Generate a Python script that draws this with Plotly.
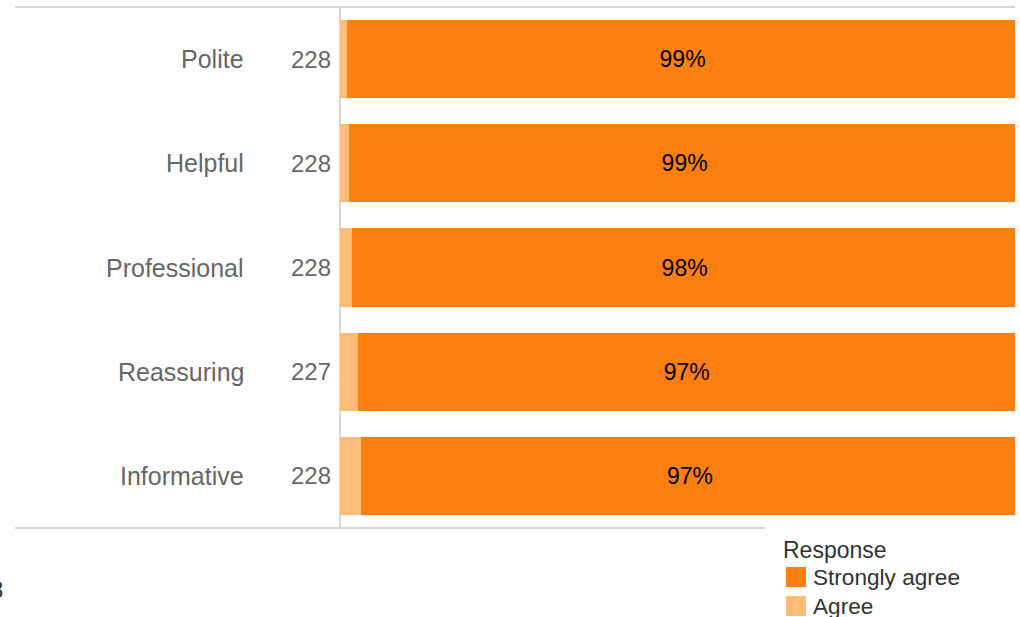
import plotly.graph_objects as go

# Survey items, respondent counts and response shares (%)
items = ["Polite", "Helpful", "Professional", "Reassuring", "Informative"]
counts = [228, 228, 228, 227, 228]
agree = [1.0, 1.3, 1.8, 2.6, 3.1]
strongly_agree = [99, 99, 98, 97, 97]

legend_title = "Response"
legend_labels = ["Strongly agree", "Agree"]

COL_STRONG = "#fd7f0f"
COL_AGREE = "#ffbb78"
LABEL_GREY = "#666666"
DARK = "#333333"
RULE = "#d6d6d6"
FONT = "Liberation Sans, Arial, sans-serif"

W, H = 1020, 617
ML, MR, MT, MB = 340, 5, 7, 89
PW = W - ML - MR
PH = H - MT - MB


def px_x(px):
    return (px - ML) / PW


def px_y(py):
    return (H - MB - py) / PH


fig = go.Figure()
fig.add_trace(go.Bar(
    y=items, x=agree, orientation="h", name=legend_labels[1],
    marker=dict(color=COL_AGREE, line=dict(width=0)),
    hoverinfo="skip", showlegend=False,
))
fig.add_trace(go.Bar(
    y=items, x=strongly_agree, orientation="h", name=legend_labels[0],
    marker=dict(color=COL_STRONG, line=dict(width=0)),
    texttemplate="%{x:.0f}%", textposition="inside", insidetextanchor="middle",
    textangle=0, textfont=dict(color="black", size=23, family=FONT),
    hoverinfo="skip", showlegend=False,
))

annotations = []
for name, n in zip(items, counts):
    annotations.append(dict(
        xref="paper", yref="y", x=px_x(246), y=name, text=name,
        xanchor="right", yanchor="middle", showarrow=False,
        font=dict(size=25, color=LABEL_GREY, family=FONT),
    ))
    annotations.append(dict(
        xref="paper", yref="y", x=px_x(333), y=name, text=str(n),
        xanchor="right", yanchor="middle", showarrow=False,
        font=dict(size=24, color=LABEL_GREY, family=FONT),
    ))

# Hand-drawn legend below the plot
annotations.append(dict(
    xref="paper", yref="paper", x=px_x(781), y=px_y(550), text=legend_title,
    xanchor="left", yanchor="middle", showarrow=False,
    font=dict(size=23, color=DARK, family=FONT),
))
shapes = []
for label, color, cy in [(legend_labels[0], COL_STRONG, 577), (legend_labels[1], COL_AGREE, 606)]:
    shapes.append(dict(
        type="rect", xref="paper", yref="paper",
        x0=px_x(786), x1=px_x(806), y0=px_y(cy - 10), y1=px_y(cy + 10),
        fillcolor=color, line=dict(width=0),
    ))
    annotations.append(dict(
        xref="paper", yref="paper", x=px_x(811), y=px_y(cy), text=label,
        xanchor="left", yanchor="middle", showarrow=False,
        font=dict(size=22.6, color=DARK, family=FONT),
    ))

# Partially visible footnote at the lower left
annotations.append(dict(
    xref="paper", yref="paper", x=px_x(5), y=px_y(590), text="228",
    xanchor="right", yanchor="middle", showarrow=False,
    font=dict(size=23, color=DARK, family=FONT),
))

# Frame rules
shapes += [
    dict(type="line", xref="paper", yref="paper", x0=px_x(15), x1=px_x(1015),
         y0=1, y1=1, line=dict(color=RULE, width=2)),
    dict(type="line", xref="paper", yref="paper", x0=px_x(15), x1=px_x(765),
         y0=0, y1=0, line=dict(color=RULE, width=2)),
    dict(type="line", xref="paper", yref="paper", x0=0, x1=0,
         y0=0, y1=1, line=dict(color=RULE, width=2), layer="below"),
]

fig.update_layout(
    width=W, height=H,
    margin=dict(l=ML, r=MR, t=MT, b=MB),
    barmode="stack", bargap=0.25,
    plot_bgcolor="white", paper_bgcolor="white",
    xaxis=dict(range=[0, 99.5], visible=False, fixedrange=True),
    yaxis=dict(autorange="reversed", visible=False, fixedrange=True),
    annotations=annotations, shapes=shapes,
    showlegend=False,
    font=dict(family=FONT),
)

fig.write_html("out.html")
